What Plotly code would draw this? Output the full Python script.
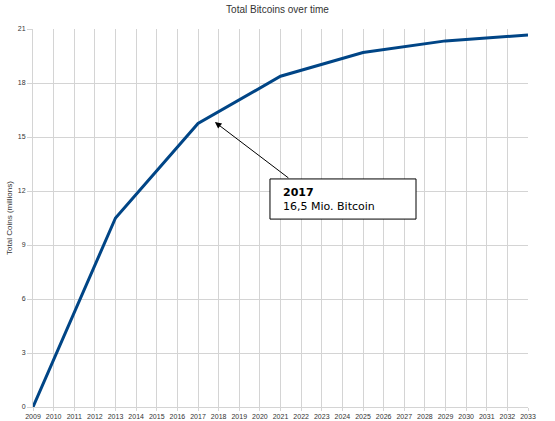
import plotly.graph_objs as go

# Total bitcoins in circulation (millions), read at each halving year
years = [2009, 2013, 2017, 2021, 2025, 2029, 2033]
coins = [0, 10.5, 15.75, 18.375, 19.69, 20.34, 20.67]

x_ticks = list(range(2009, 2034))
y_ticks = [0, 3, 6, 9, 12, 15, 18, 21]

note_year = "2017"
note_text = "16,5 Mio. Bitcoin"

grid = "#d4d4d4"
font_small = dict(family="Liberation Sans, Arial", size=7, color="#333333")

fig = go.Figure(
    data=[go.Scatter(x=years, y=coins, mode="lines",
                     line=dict(color="#004586", width=3),
                     hoverinfo="skip")],
    layout=go.Layout(
        width=555, height=421,
        paper_bgcolor="white", plot_bgcolor="white",
        margin=dict(l=33, r=27, t=29, b=14),
        showlegend=False,
        title=dict(text="Total Bitcoins over time", x=0.5, xanchor="center",
                   y=0.985, yanchor="top", automargin=False,
                   font=dict(family="Liberation Sans, Arial", size=10, color="#333333")),
        xaxis=dict(range=[2009, 2033], tickvals=x_ticks, ticktext=[str(v) for v in x_ticks],
                   showgrid=True, gridcolor=grid, gridwidth=1,
                   zeroline=False, showline=True, linecolor=grid,
                   ticks="outside", ticklen=3, tickcolor=grid,
                   tickfont=font_small, tickangle=0, fixedrange=True,
                   automargin=False),
        yaxis=dict(range=[0, 21], tickvals=y_ticks,
                   showgrid=True, gridcolor=grid, gridwidth=1,
                   zeroline=False, showline=True, linecolor=grid,
                   ticks="outside", ticklen=5, tickcolor=grid,
                   tickfont=font_small, automargin=False,
                   title=dict(text="Total Coins (millions)", standoff=4,
                              font=dict(family="Liberation Sans, Arial", size=8, color="#333333"))),
    ),
)

# arrow pointing at the curve
fig.add_annotation(x=2017.82, y=15.83, xref="x", yref="y", text="",
                   showarrow=True, arrowhead=2, arrowsize=1.3, arrowwidth=1,
                   arrowcolor="black", ax=75, ay=57)

# callout box and its text
fig.add_shape(type="rect", xref="x", yref="y", x0=2020.49, x1=2027.57, y0=10.44, y1=12.67,
              line=dict(color="black", width=1), fillcolor="white", layer="above")
fig.add_annotation(x=2021.0, y=11.55, xref="x", yref="y",
                   xanchor="left", yanchor="middle", showarrow=False, align="left",
                   text=f"<b>{note_year}</b><br>{note_text}",
                   font=dict(family="DejaVu Sans", size=11, color="black"))

fig.write_html("out.html", config={"displayModeBar": False},
               post_script="document.body.style.margin='0px';")
